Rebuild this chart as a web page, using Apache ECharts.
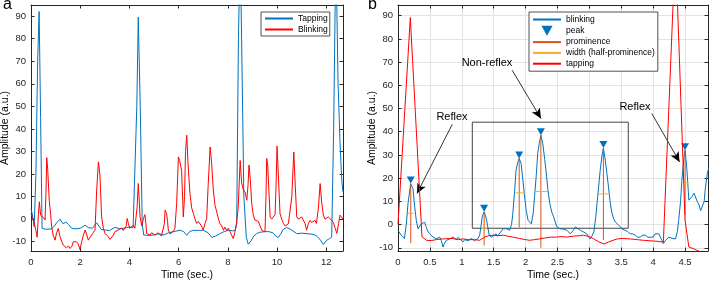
<!DOCTYPE html>
<html>
<head>
<meta charset="utf-8">
<script src="https://cdn.jsdelivr.net/npm/echarts@6/dist/echarts.min.js"></script>
<style>
html, body { margin: 0; padding: 0; background: #fff; }
#chart { width: 709px; height: 281px; }
</style>
</head>
<body>
<div id="chart"></div>
<script>
// panel a: tapping (blue) and blinking (red), time in seconds
const tapT = [0, 0.06, 0.13, 0.2, 0.27, 0.33, 0.39, 0.45, 0.6, 0.84, 0.95, 1.05, 1.18, 1.3, 1.42, 1.52, 1.65, 1.8, 2.0, 2.2, 2.35, 2.5, 2.67, 2.85, 3.0, 3.2, 3.41, 3.6, 3.8, 4.0, 4.15, 4.23, 4.3, 4.36, 4.44, 4.52, 4.58, 4.8, 5.0, 5.2, 5.4, 5.6, 5.8, 6.06, 6.2, 6.33, 6.45, 6.6, 6.8, 7.0, 7.2, 7.35, 7.5, 7.68, 7.85, 8.02, 8.2, 8.3, 8.36, 8.43, 8.5, 8.56, 8.65, 8.75, 8.83, 8.95, 9.05, 9.17, 9.3, 9.44, 9.6, 9.71, 9.85, 9.95, 10.05, 10.15, 10.25, 10.39, 10.55, 10.8, 11.0, 11.3, 11.5, 11.61, 11.75, 11.88, 12.0, 12.13, 12.22, 12.3, 12.39, 12.48, 12.56, 12.63, 12.68];
const tapA = [4.5, 2, -3.4, 20, 70, 92, 45, -4, -4.5, -4.3, -3, -1.5, 0, -2, -1.3, -2.3, -4, -4.3, -4, -2.7, -3.8, -4, -1.6, -4.5, -4.8, -5, -3.6, -4.2, -4, -3.5, -3.8, -3, 50, 89.5, 50, -2, -7, -7.2, -7, -6.5, -7, -6, -5.5, -4.9, -5.5, -7.1, -5.5, -4.9, -5, -4.9, -6, -8.1, -7.5, -6.4, -5.5, -4.9, -5.2, -4.9, -2, 80, 120, 80, 10, -8, -11.1, -9.5, -7.5, -6.4, -5.8, -5.6, -5.5, -5.6, -6.2, -7.5, -8.1, -6.5, -4.5, -3.7, -4.5, -6.4, -6.2, -6.5, -6.8, -7.5, -9, -11.2, -9.5, -8.6, -8, 40, 120, 60, 33.5, 17, 12];

const blinkT = [0, 0.05, 0.12, 0.2, 0.25, 0.3, 0.34, 0.39, 0.45, 0.52, 0.57, 0.61, 0.64, 0.68, 0.74, 0.8, 0.84, 0.9, 0.98, 1.04, 1.11, 1.18, 1.25, 1.31, 1.38, 1.45, 1.52, 1.59, 1.66, 1.72, 1.79, 1.85, 1.92, 1.99, 2.06, 2.13, 2.2, 2.27, 2.33, 2.4, 2.46, 2.53, 2.6, 2.67, 2.74, 2.8, 2.87, 2.94, 3.01, 3.07, 3.14, 3.21, 3.28, 3.35, 3.41, 3.48, 3.54, 3.61, 3.68, 3.75, 3.82, 3.87, 3.91, 3.96, 4.01, 4.08, 4.16, 4.22, 4.27, 4.31, 4.36, 4.4, 4.43, 4.5, 4.57, 4.63, 4.67, 4.7, 4.77, 4.84, 4.9, 4.97, 5.04, 5.1, 5.17, 5.24, 5.3, 5.37, 5.42, 5.45, 5.51, 5.55, 5.58, 5.65, 5.71, 5.78, 5.85, 5.92, 5.99, 6.04, 6.12, 6.19, 6.24, 6.28, 6.33, 6.38, 6.46, 6.53, 6.6, 6.67, 6.73, 6.8, 6.87, 6.93, 7.0, 7.07, 7.14, 7.2, 7.28, 7.34, 7.41, 7.48, 7.55, 7.62, 7.68, 7.75, 7.82, 7.88, 7.95, 8.02, 8.09, 8.15, 8.22, 8.28, 8.35, 8.42, 8.5, 8.56, 8.63, 8.7, 8.77, 8.82, 8.86, 8.91, 8.97, 9.03, 9.1, 9.17, 9.24, 9.31, 9.38, 9.45, 9.51, 9.55, 9.58, 9.62, 9.68, 9.72, 9.78, 9.85, 9.92, 9.96, 10.0, 10.05, 10.12, 10.19, 10.26, 10.33, 10.39, 10.46, 10.53, 10.6, 10.68, 10.74, 10.8, 10.87, 10.93, 11.0, 11.07, 11.14, 11.2, 11.27, 11.34, 11.4, 11.47, 11.54, 11.6, 11.68, 11.75, 11.81, 11.88, 11.95, 12.02, 12.08, 12.15, 12.22, 12.29, 12.36, 12.43, 12.5, 12.56, 12.63, 12.68];
const blinkA = [2.5, 1, -1.2, -5, -8, 2, 7.7, 1.8, 2.5, 0.5, -0.4, 12, 27.3, 22, 8.4, 2, -3.4, -7, -9.3, -6, -4.1, -7.8, -10, -11.5, -12, -12.7, -11.8, -13, -12, -10, -9.3, -10, -11, -13.4, -10, -7.1, -4.8, -7, -9.3, -8, -7.8, -6, -4.9, 12.9, 25.4, 20, 1, -4, -6.3, -6, -7.8, -9, -8.6, -7, -5.6, -6, -4.8, -5.5, -4, -5, -4.8, -3, 0.3, -2, -4, -3.5, -2.7, -4, -4.8, 5, 15.8, 8, 1.3, -3, 0.3, 2, -2, -6.3, -6, -7, -6, -5.6, -7, -7, -6, -6.3, -7.5, -8, -2, 4, 2.5, -1, -4.8, -6.5, -7, -5.5, -4, 6.9, 27.6, 26, 21.7, 1, 10, 30, 37.2, 25, 11.4, 5, 2.5, 0, -1.9, -1, -0.4, -3, -4.9, -2, 0.3, 15, 32, 25, 12.9, 6, 3.2, 0, -1.9, -3, -4.9, -3.5, -5, -4, -5.6, -7, -8.6, -6, -2, 5, 26, 16, 12.9, 12, 8.4, 15, 24, 18, 7, 2, -0.4, -0.5, -1, -3, -4.9, -5, -5.6, 10, 26.9, 24, 10, 1, 0, -0.5, 2, 15, 32.4, 20, 2.5, 0, -1.9, -3, -3.7, -2, -2.7, 10, 29.8, 15, 1, 0, -0.5, 1, 0.3, -2, -4.9, -2, -0.5, -1.5, -1, -0.5, -1.9, 5, 15.8, 8, 1.8, 0, -0.5, 1, 1.8, -0.5, -1.5, -4, -6.3, -2, 1.8, 1.8, 0];

// panel b: zoom on the first 4.9 s
const bT = [0, 0.05, 0.1, 0.13, 0.157, 0.198, 0.235, 0.26, 0.287, 0.313, 0.34, 0.366, 0.418, 0.444, 0.47, 0.496, 0.549, 0.6, 0.653, 0.68, 0.706, 0.73, 0.758, 0.81, 0.862, 0.915, 0.94, 0.967, 1.019, 1.045, 1.07, 1.1, 1.125, 1.15, 1.176, 1.2, 1.23, 1.255, 1.28, 1.3, 1.32, 1.35, 1.37, 1.39, 1.43, 1.46, 1.49, 1.54, 1.56, 1.59, 1.65, 1.7, 1.75, 1.78, 1.8, 1.83, 1.85, 1.88, 1.9, 1.93, 1.955, 1.98, 2.01, 2.04, 2.09, 2.12, 2.14, 2.17, 2.19, 2.215, 2.24, 2.27, 2.3, 2.32, 2.35, 2.38, 2.41, 2.44, 2.49, 2.54, 2.6, 2.65, 2.7, 2.75, 2.78, 2.81, 2.86, 2.91, 2.96, 3.01, 3.04, 3.07, 3.1, 3.12, 3.145, 3.17, 3.2, 3.22, 3.25, 3.275, 3.3, 3.325, 3.35, 3.38, 3.41, 3.46, 3.51, 3.56, 3.6, 3.64, 3.68, 3.72, 3.76, 3.8, 3.84, 3.88, 3.92, 3.95, 4.0, 4.03, 4.06, 4.09, 4.11, 4.14, 4.16, 4.19, 4.21, 4.24, 4.27, 4.31, 4.35, 4.38, 4.4, 4.43, 4.45, 4.48, 4.5, 4.515, 4.53, 4.56, 4.585, 4.61, 4.64, 4.66, 4.69, 4.72, 4.745, 4.77, 4.8, 4.82, 4.85, 4.87];
const bBlink = [-2.5, -4.6, -6, 0, 9, 17.6, 15.5, 8, 1.8, -1.8, -1, 0.3, 1, -1.3, -3, -4, -5.4, -6.2, -5.4, -7, -9.7, -8, -6.8, -6.2, -5.4, -6.5, -5.5, -6.2, -7.5, -6.5, -6.2, -7, -7.2, -6, -5.4, -7, -6.8, -6, -4.6, -1, 3.3, 5.5, 4, 1.8, -4.6, -5.5, -6.2, -4, -5, -4.6, -1.8, -1.8, -2.5, 0, 4.7, 15, 23.4, 27, 28.5, 26.3, 20, 13.3, 6, 1.8, 0.3, 5, 11.8, 22, 30.6, 35, 38.5, 34.9, 28, 23.4, 15, 9, 5.4, 3.3, -1, -1.8, -2, -2.5, -4, -2.5, -1, -0.3, -2.5, -3.2, -4, -6.2, -5, -3.2, 3, 9, 16, 23.4, 30, 33, 27.7, 22, 16.2, 10, 5.4, 2.5, 1, -0.3, -1.8, -2.5, -3, -4, -4, -4.6, -5.5, -5.4, -4.5, -4.6, -5.5, -6.2, -5.4, -4, -3.2, -4, -4.6, -7, -8.2, -7, -6.2, -5.5, -5.4, -6, -6.2, -3, 1.8, 10, 19, 28, 32, 28, 23.4, 10.5, 11, 12, 13.5, 12.7, 10, 8.4, 6, 6, 10, 16.2, 22, 24.2];

const tT = [0, 0.193, 0.3, 0.376, 0.45, 0.52, 0.6, 0.7, 0.85, 0.95, 1.02, 1.1, 1.2, 1.28, 1.35, 1.42, 1.49, 1.57, 1.65, 1.72, 1.8, 1.9, 2.0, 2.06, 2.14, 2.22, 2.3, 2.4, 2.48, 2.56, 2.65, 2.75, 2.85, 2.91, 3.0, 3.07, 3.15, 3.23, 3.3, 3.37, 3.44, 3.52, 3.64, 3.75, 3.85, 3.95, 4.06, 4.16, 4.35, 4.5, 4.56, 4.63, 4.68, 4.72];
const tTap = [0, 89.2, 34, -5.3, -6.8, -6.9, -6.5, -6.2, -6, -6.5, -6.2, -6.5, -6.5, -6.8, -5.5, -4.8, -4.6, -4.8, -4.6, -5, -5.4, -6, -6.5, -6.8, -6.5, -6.2, -5.8, -5.4, -5.4, -5.2, -5.4, -5, -4.8, -4.6, -5.2, -6.2, -7.5, -8.4, -7.5, -6.8, -6.2, -6, -6.2, -6.5, -6.8, -7, -7.2, -7.6, 120, 1.8, -9.7, -10.4, -11, -11.5];

const peakT = [0.2, 1.35, 1.9, 2.24, 3.22, 4.5];
const peakA = [17.7, 5.5, 28.5, 38.5, 33, 32];
const promBase = [-8, -9, -1.2, -10, -6.6, 4.2];
const widthL = [0.157, 1.306, 1.843, 2.157, 3.145, 4.476];
const widthR = [0.245, 1.395, 1.985, 2.35, 3.317, 4.555];

const ticksA = [0, 2, 4, 6, 8, 10, 12];
const ticksB = [0, 0.5, 1, 1.5, 2, 2.5, 3, 3.5, 4, 4.5];
const ticksY = [-10, 0, 10, 20, 30, 40, 50, 60, 70, 80, 90];

const zip = (xs, ys) => xs.map((x, i) => [x, ys[i]]);

const promData = [];
const widthData = [];
peakT.forEach((x, i) => {
  const half = (peakA[i] + promBase[i]) / 2;
  promData.push([x, peakA[i]], [x, promBase[i]], [x, '-']);
  widthData.push([widthL[i], half], [widthR[i], half], [widthR[i], '-']);
});

const BLUE = '#0072BD';
const RED = '#FF0000';
const ORANGE = '#D95319';
const YELLOW = '#EDB120';
const AX = '#262626';
const FONT = '"Liberation Sans", Arial, Helvetica, sans-serif';
const downTri = 'path://M0,0L10,0L5,9Z';

function xAx(grid, max, ticks, bottom) {
  return {
    type: 'value', gridIndex: grid, min: 0, max: max,
    position: bottom ? 'bottom' : 'top',
    name: bottom ? 'Time (sec.)' : '', nameLocation: 'middle', nameGap: 19, nameMoveOverlap: false,
    nameTextStyle: { fontSize: 10.5, color: '#000' },
    axisLine: { onZero: false, lineStyle: { color: AX, width: 1 } },
    axisTick: { inside: true, length: 3.5, customValues: ticks, lineStyle: { color: AX } },
    axisLabel: { show: bottom, customValues: ticks, fontSize: 9.5, color: AX, margin: 6 },
    splitLine: { show: grid === 1 && bottom, lineStyle: { color: '#e4e4e4', width: 1 } }
  };
}
function yAx(grid, min, max, left) {
  return {
    type: 'value', gridIndex: grid, min: min, max: max,
    position: left ? 'left' : 'right',
    name: left ? 'Amplitude (a.u.)' : '', nameLocation: 'middle', nameGap: 20, nameMoveOverlap: false,
    nameTextStyle: { fontSize: 10.5, color: '#000' },
    axisLine: { onZero: false, lineStyle: { color: AX, width: 1 } },
    axisTick: { inside: true, length: 3.5, customValues: ticksY, lineStyle: { color: AX } },
    axisLabel: { show: left, customValues: ticksY, fontSize: 9.5, color: AX, margin: 5 },
    splitLine: { show: grid === 1 && left, lineStyle: { color: '#e4e4e4', width: 1 } }
  };
}

function line(name, data, color, xi, yi, z) {
  return {
    type: 'line', name: name, data: data, xAxisIndex: xi, yAxisIndex: yi,
    symbol: 'none', clip: true, z: z,
    lineStyle: { color: color, width: 1 }, itemStyle: { color: color },
    connectNulls: false
  };
}

const arrows = [
  [[0.851, 43.2], [0.298, 13.4]],
  [[1.79, 66.5], [2.241, 45.7]],
  [[3.98, 47.8], [4.414, 27]]
];

const legendBase = {
  orient: 'vertical', top: 12, itemWidth: 28, itemHeight: 10,
  backgroundColor: '#fff', borderColor: AX, borderWidth: 0.8, borderRadius: 0,
  itemStyle: { opacity: 0 },
  textStyle: { fontSize: 8.5, color: '#000' }, selectedMode: false
};

const chart = echarts.init(document.getElementById('chart'), null, { renderer: 'canvas' });
chart.setOption({
  animation: false,
  textStyle: { fontFamily: FONT },
  grid: [
    { left: 31, top: 5, width: 312, height: 246, outerBoundsMode: 'none', containLabel: false },
    { left: 398, top: 5, width: 310, height: 246, outerBoundsMode: 'none', containLabel: false }
  ],
  xAxis: [xAx(0, 12.68, ticksA, true), xAx(0, 12.68, ticksA, false), xAx(1, 4.86, ticksB, true), xAx(1, 4.86, ticksB, false)],
  yAxis: [yAx(0, -14.1, 94.9, true), yAx(0, -14.1, 94.9, false), yAx(1, -11.4, 94.6, true), yAx(1, -11.4, 94.6, false)],
  legend: [
    Object.assign({}, legendBase, {
      data: ['Tapping', 'Blinking'], left: 261, itemGap: 2, padding: [2, 2, 2, 3]
    }),
    Object.assign({}, legendBase, {
      data: ['blinking', { name: 'peak', icon: downTri, itemStyle: { opacity: 1, color: BLUE } },
        'prominence', 'width (half-prominence)', 'tapping'],
      left: 529, itemGap: 1.8, padding: [3, 3, 3, 3]
    })
  ],
  graphic: [
    { type: 'text', left: 3, top: -3, style: { text: 'a', font: '16px ' + FONT, fill: '#000' } },
    { type: 'text', left: 368, top: -3, style: { text: 'b', font: '16px ' + FONT, fill: '#000' } },
    { type: 'text', x: 452, y: 117, style: { text: 'Reflex', font: '11px ' + FONT, fill: '#000', align: 'center', verticalAlign: 'middle' }, z: 20 },
    { type: 'text', x: 487, y: 63, style: { text: 'Non-reflex', font: '11px ' + FONT, fill: '#000', align: 'center', verticalAlign: 'middle' }, z: 20 },
    { type: 'text', x: 635, y: 107, style: { text: 'Reflex', font: '11px ' + FONT, fill: '#000', align: 'center', verticalAlign: 'middle' }, z: 20 }
  ],
  series: [
    line('Tapping', zip(tapT, tapA), BLUE, 0, 0, 2),
    line('Blinking', zip(blinkT, blinkA), RED, 0, 0, 3),
    line('blinking', zip(bT, bBlink), BLUE, 2, 2, 2),
    {
      type: 'scatter', name: 'peak', data: zip(peakT, peakA), xAxisIndex: 2, yAxisIndex: 2,
      symbol: downTri, symbolSize: [8, 7], symbolOffset: [0, -3.5], z: 4,
      itemStyle: { color: BLUE, opacity: 1 }
    },
    line('prominence', promData, ORANGE, 2, 2, 3),
    line('width (half-prominence)', widthData, YELLOW, 2, 2, 3),
    line('tapping', zip(tT, tTap), RED, 2, 2, 5),
    {
      type: 'line', name: 'notes', data: [], xAxisIndex: 2, yAxisIndex: 2, z: 6, silent: true,
      markArea: {
        silent: true,
        itemStyle: { color: 'rgba(0,0,0,0)', borderColor: '#444', borderWidth: 1 },
        data: [[{ coord: [1.165, 44.1] }, { coord: [3.61, -1.6] }]]
      },
      markLine: {
        silent: true, symbol: ['none', 'arrow'], symbolSize: [7, 10],
        label: { show: false },
        lineStyle: { color: '#000', width: 0.8, type: 'solid' },
        data: arrows.map(a => [{ coord: a[0] }, { coord: a[1] }])
      }
    }
  ]
});
</script>
</body>
</html>
